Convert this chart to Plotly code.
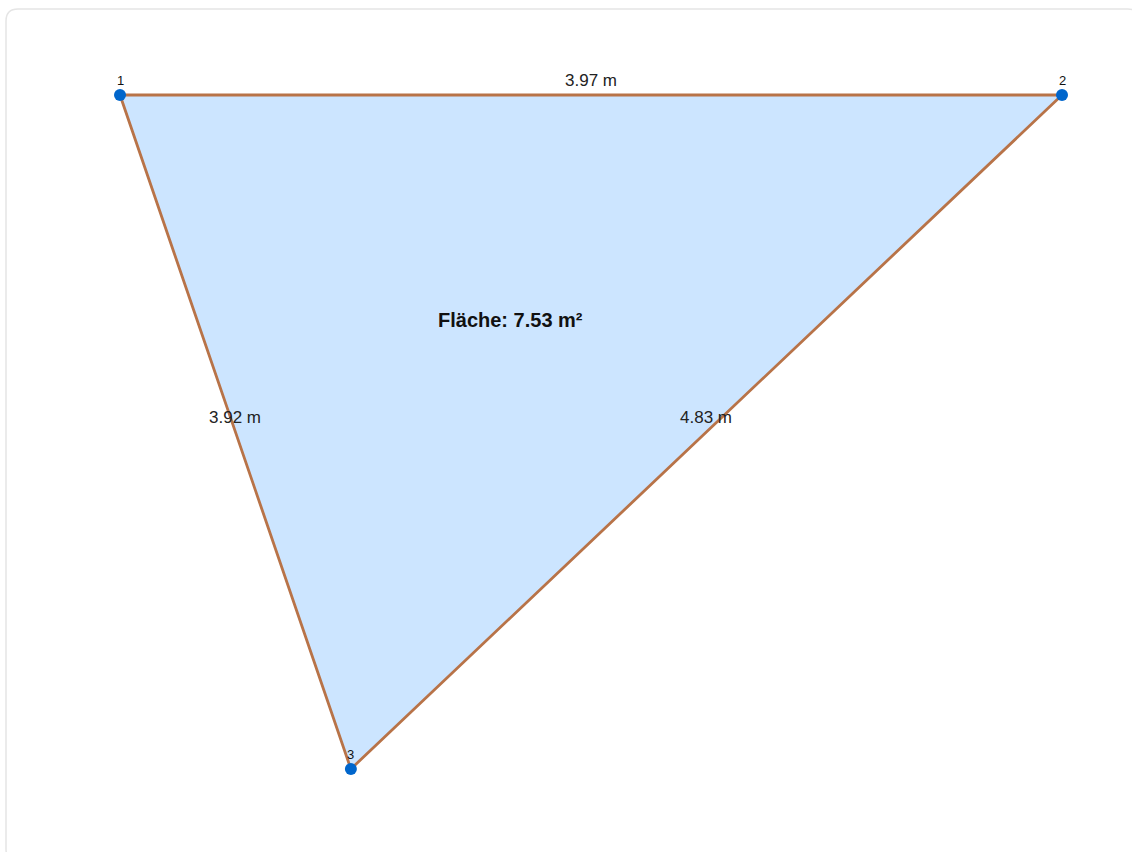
import plotly.graph_objects as go

# Data (metres)
point_ids = ["1", "2", "3"]
x_m = [0.0, 3.97, 0.973]
y_m = [0.0, 0.0, -3.797]
edge_labels = ["3.97 m", "4.83 m", "3.92 m"]
area_label = "Fläche: 7.53 m²"

W, H = 1132, 852
FONT = "Liberation Sans, Arial, sans-serif"

fig = go.Figure()

# filled triangle with edges
fig.add_trace(go.Scatter(
    x=x_m + [x_m[0]], y=y_m + [y_m[0]],
    mode="lines", fill="toself",
    fillcolor="rgb(204,229,255)",
    line=dict(color="rgb(184,115,72)", width=2.8),
    hoverinfo="skip", showlegend=False,
))

# vertices
fig.add_trace(go.Scatter(
    x=x_m, y=y_m, mode="markers",
    marker=dict(color="rgb(0,102,204)", size=12),
    hoverinfo="skip", showlegend=False,
))

annotations = []
n = len(x_m)
for i in range(n):
    annotations.append(dict(
        x=x_m[i], y=y_m[i], xref="x", yref="y", text=point_ids[i],
        showarrow=False, yshift=15,
        font=dict(family=FONT, size=13, color="#111"),
    ))
for i in range(n):
    j = (i + 1) % n
    annotations.append(dict(
        x=(x_m[i] + x_m[j]) / 2, y=(y_m[i] + y_m[j]) / 2,
        xref="x", yref="y", text=edge_labels[i], showarrow=False,
        yshift=15, font=dict(family=FONT, size=17, color="#222"),
    ))
annotations.append(dict(
    x=sum(x_m) / n, y=sum(y_m) / n, xref="x", yref="y",
    text="<b>" + area_label + "</b>", showarrow=False,
    font=dict(family=FONT, size=20, color="#111"),
))

# card outline (rounded rectangle) in paper coords
def px(xp):
    return xp / W

def py(yp):
    return 1 - yp / H

x0, y0, x1, y1, r = 6, 9, 1140, 861, 12
path = (f"M {px(x0+r)},{py(y0)} L {px(x1-r)},{py(y0)} "
        f"Q {px(x1)},{py(y0)} {px(x1)},{py(y0+r)} "
        f"L {px(x1)},{py(y1-r)} Q {px(x1)},{py(y1)} {px(x1-r)},{py(y1)} "
        f"L {px(x0+r)},{py(y1)} Q {px(x0)},{py(y1)} {px(x0)},{py(y1-r)} "
        f"L {px(x0)},{py(y0+r)} Q {px(x0)},{py(y0)} {px(x0+r)},{py(y0)} Z")

sx = 942 / 3.97
sy = 674 / 3.797
fig.update_layout(
    width=W, height=H,
    margin=dict(l=0, r=0, t=0, b=0),
    paper_bgcolor="white", plot_bgcolor="rgba(0,0,0,0)",
    xaxis=dict(range=[-120 / sx, (W - 120) / sx], visible=False, fixedrange=True),
    yaxis=dict(range=[-(H - 95) / sy, 95 / sy], visible=False, fixedrange=True),
    annotations=annotations,
    shapes=[dict(type="path", xref="paper", yref="paper", path=path,
                 line=dict(color="rgb(229,229,229)", width=1.5), layer="below")],
)

fig.write_html(
    "out.html",
    config={"displayModeBar": False},
    post_script="document.body.style.margin='0';document.body.style.overflow='hidden';",
)
